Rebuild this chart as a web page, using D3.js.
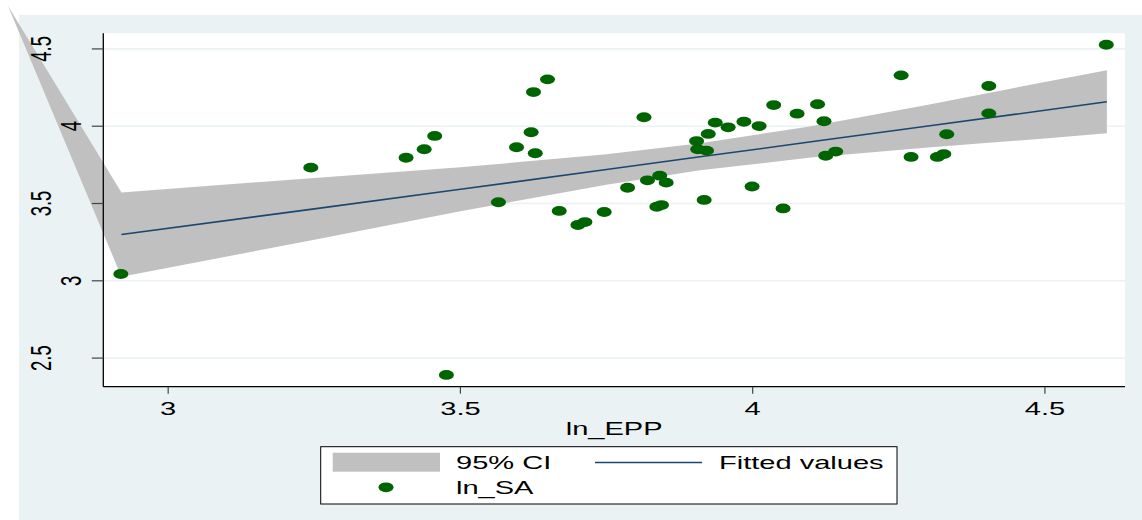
<!DOCTYPE html>
<html>
<head>
<meta charset="utf-8">
<script src="https://cdn.jsdelivr.net/npm/d3@7"></script>
<style>
  body { margin: 0; background: #fff; }
  text { font-family: "Liberation Sans", Arial, Helvetica, sans-serif; fill: #000; }
</style>
</head>
<body>
<div id="chart"></div>
<script>
// ln_EPP (x) and ln_SA (y)
const lnEPP = [2.919, 3.244, 3.407, 3.438, 3.456, 3.476, 3.565, 3.596, 3.621, 3.625,
  3.628, 3.649, 3.669, 3.701, 3.713, 3.746, 3.786, 3.814, 3.820, 3.841,
  3.836, 3.844, 3.852, 3.904, 3.906, 3.921, 3.917, 3.924, 3.936, 3.958,
  3.985, 3.999, 4.011, 4.036, 4.052, 4.076, 4.111, 4.122, 4.125, 4.142,
  4.254, 4.271, 4.316, 4.327, 4.332, 4.404, 4.404, 4.605];
const lnSA = [3.044, 3.732, 3.796, 3.851, 3.937, 2.391, 3.508, 3.864, 3.961, 4.221,
  3.825, 4.303, 3.452, 3.361, 3.380, 3.445, 3.602, 4.058, 3.650, 3.680,
  3.479, 3.490, 3.635, 3.904, 3.851, 3.842, 3.523, 3.950, 4.023, 3.993,
  4.029, 3.610, 4.001, 4.137, 3.468, 4.081, 4.142, 4.032, 3.809, 3.836,
  4.329, 3.801, 3.801, 3.820, 3.948, 4.260, 4.083, 4.527];

// fitted line and 95% CI band, sampled along x
const fitX = [2.920, 3.25, 3.5, 3.75, 3.91, 4.1, 4.3, 4.5, 4.606];
const fitY = [3.300, 3.465, 3.592, 3.720, 3.802, 3.899, 4.001, 4.103, 4.158];
const ciUpper = [3.572, 3.665, 3.734, 3.818, 3.889, 4.000, 4.139, 4.286, 4.362];
const ciLower = [3.027, 3.265, 3.450, 3.622, 3.715, 3.797, 3.863, 3.920, 3.954];
// stray closing vertex of the CI polygon (off the plot, top left)
const ciClose = [2.726, 4.778];

const xTicks = [3, 3.5, 4, 4.5];
const yTicks = [2.5, 3, 3.5, 4, 4.5];

const width = 1142, height = 520;
const sx = 1.57; // horizontal stretch of the text in the picture
const fontSize = 18.5;

const svg = d3.select("#chart").append("svg")
  .attr("width", width)
  .attr("height", height);

// graph region background
svg.append("rect")
  .attr("x", 19).attr("y", 15)
  .attr("width", width - 19).attr("height", height - 15)
  .attr("fill", "#eaf2f3");

const plot = { left: 103.3, right: 1125, top: 33.3, bottom: 386.7 };

const x = d3.scaleLinear().domain([2.889, 4.637]).range([plot.left, plot.right]);
const y = d3.scaleLinear().domain([2.315, 4.601]).range([plot.bottom, plot.top]);

svg.append("rect")
  .attr("x", plot.left).attr("y", plot.top)
  .attr("width", plot.right - plot.left).attr("height", plot.bottom - plot.top)
  .attr("fill", "#fff");

// gridlines
svg.append("g")
  .selectAll("line")
  .data(yTicks)
  .join("line")
  .attr("x1", plot.left).attr("x2", plot.right)
  .attr("y1", d => y(d)).attr("y2", d => y(d))
  .attr("stroke", "#eaf2f3")
  .attr("stroke-width", 1.6);

// CI band
const bandPts = [ciClose]
  .concat(fitX.map((v, i) => [v, ciUpper[i]]))
  .concat(fitX.map((v, i) => [v, ciLower[i]]).reverse());
svg.append("path")
  .attr("d", d3.line().x(d => x(d[0])).y(d => y(d[1]))(bandPts) + "Z")
  .attr("fill", "#c0c0c0");

// fitted values
svg.append("path")
  .datum(fitX.map((v, i) => [v, fitY[i]]))
  .attr("d", d3.line().x(d => x(d[0])).y(d => y(d[1])))
  .attr("fill", "none")
  .attr("stroke", "#1a476f")
  .attr("stroke-width", 1.6);

// scatter
svg.append("g")
  .selectAll("ellipse")
  .data(lnEPP.map((v, i) => [v, lnSA[i]]))
  .join("ellipse")
  .attr("cx", d => x(d[0]))
  .attr("cy", d => y(d[1]))
  .attr("rx", 7.5)
  .attr("ry", 4.9)
  .attr("fill", "#006400");

// axes
svg.append("line")
  .attr("x1", plot.left).attr("x2", plot.left)
  .attr("y1", plot.top).attr("y2", plot.bottom)
  .attr("stroke", "#000").attr("stroke-width", 1.3);
svg.append("line")
  .attr("x1", plot.left).attr("x2", plot.right)
  .attr("y1", plot.bottom).attr("y2", plot.bottom)
  .attr("stroke", "#000").attr("stroke-width", 1.3);

// y ticks and rotated labels
svg.append("g")
  .selectAll("line")
  .data(yTicks)
  .join("line")
  .attr("x1", plot.left - 11.5).attr("x2", plot.left)
  .attr("y1", d => y(d)).attr("y2", d => y(d))
  .attr("stroke", "#444").attr("stroke-width", 1.2);

svg.append("g")
  .selectAll("text")
  .data(yTicks)
  .join("text")
  .attr("transform", d => {
    const lab = String(d);
    const bx = 81 - (lab.length - 1) * 15;
    return `translate(${bx},${y(d)}) scale(${sx},1) rotate(-90)`;
  })
  .attr("text-anchor", "middle")
  .attr("font-size", fontSize)
  .text(d => String(d));

// x ticks and labels
svg.append("g")
  .selectAll("line")
  .data(xTicks)
  .join("line")
  .attr("x1", d => x(d)).attr("x2", d => x(d))
  .attr("y1", plot.bottom).attr("y2", plot.bottom + 7)
  .attr("stroke", "#444").attr("stroke-width", 1.2);

svg.append("g")
  .selectAll("text")
  .data(xTicks)
  .join("text")
  .attr("transform", d => `translate(${x(d)},415) scale(${sx},1)`)
  .attr("text-anchor", "middle")
  .attr("font-size", fontSize)
  .text(d => String(d));

svg.append("text")
  .attr("transform", `translate(${(plot.left + plot.right) / 2},435) scale(${sx},1)`)
  .attr("text-anchor", "middle")
  .attr("font-size", fontSize)
  .text("ln_EPP");

// legend
const legend = svg.append("g");
legend.append("rect")
  .attr("x", 320.7).attr("y", 446.7)
  .attr("width", 897 - 320.7).attr("height", 504 - 446.7)
  .attr("fill", "#fff")
  .attr("stroke", "#000").attr("stroke-width", 1);
legend.append("rect")
  .attr("x", 332.7).attr("y", 452.7)
  .attr("width", 440 - 332.7).attr("height", 19)
  .attr("fill", "#c0c0c0");
legend.append("line")
  .attr("x1", 595).attr("x2", 702)
  .attr("y1", 462.5).attr("y2", 462.5)
  .attr("stroke", "#1a476f").attr("stroke-width", 1.6);
legend.append("ellipse")
  .attr("cx", 386).attr("cy", 487.3)
  .attr("rx", 7.5).attr("ry", 4.9)
  .attr("fill", "#006400");

const legendItems = [
  { label: "95% CI", x: 456, y: 469 },
  { label: "Fitted values", x: 719, y: 469 },
  { label: "ln_SA", x: 456, y: 494 }
];
legend.selectAll("text")
  .data(legendItems)
  .join("text")
  .attr("transform", d => `translate(${d.x},${d.y}) scale(${sx},1)`)
  .attr("font-size", fontSize)
  .text(d => d.label);
</script>
</body>
</html>
